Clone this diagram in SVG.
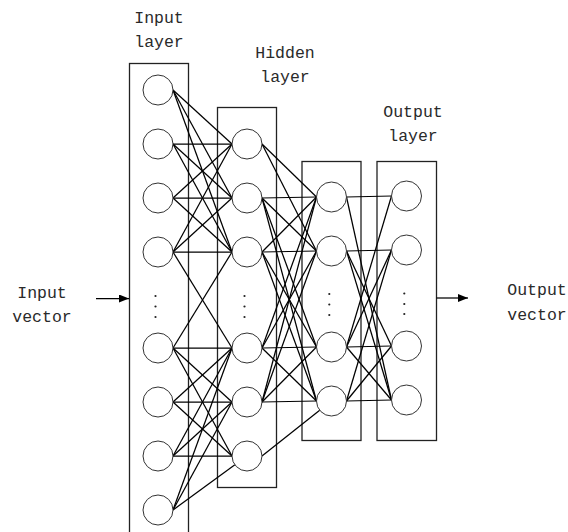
<svg xmlns="http://www.w3.org/2000/svg" width="568" height="532" viewBox="0 0 568 532">
<defs>
<style>
.box{fill:none;stroke:#222;stroke-width:1.3}
.n{fill:#fff;stroke:#333;stroke-width:1}
.c line{stroke:#000;stroke-width:1.25}
.t{font-family:"Liberation Mono","DejaVu Sans Mono",monospace;font-size:16.5px;fill:#2a2a2a;text-anchor:middle}
.d{fill:#222}
</style>
<marker id="ah" markerWidth="10" markerHeight="8" refX="10" refY="4" orient="auto" markerUnits="userSpaceOnUse">
<path d="M0,0 L10,4 L0,8 Z" fill="#000"/>
</marker>
</defs>
<rect width="568" height="532" fill="#fff"/>

<g id="labels">
<text class="t" x="159" y="23">Input</text>
<text class="t" x="159" y="47">layer</text>
<text class="t" x="285" y="58">Hidden</text>
<text class="t" x="285" y="82">layer</text>
<text class="t" x="413" y="117">Output</text>
<text class="t" x="413" y="141">layer</text>
<text class="t" x="42" y="298">Input</text>
<text class="t" x="42" y="322">vector</text>
<text class="t" x="537" y="295">Output</text>
<text class="t" x="537" y="320">vector</text>
</g>

<g id="boxes">
<rect id="input-layer" class="box" x="129.5" y="63.5" width="59" height="480"/>
<rect id="hidden-layer" class="box" x="217.5" y="107.5" width="59" height="380"/>
<rect id="hidden-layer-2" class="box" x="302" y="161.5" width="59" height="279"/>
<rect id="output-layer" class="box" x="377" y="161.5" width="59.5" height="279"/>
</g>

<g id="connectors" class="c">
<line x1="173" y1="90" x2="232" y2="144"/>
<line x1="173" y1="90" x2="232" y2="198"/>
<line x1="173" y1="90" x2="232" y2="252"/>
<line x1="173" y1="144" x2="232" y2="144"/>
<line x1="173" y1="144" x2="232" y2="198"/>
<line x1="173" y1="144" x2="232" y2="252"/>
<line x1="173" y1="198" x2="232" y2="144"/>
<line x1="173" y1="198" x2="232" y2="198"/>
<line x1="173" y1="198" x2="232" y2="252"/>
<line x1="173" y1="252" x2="232" y2="144"/>
<line x1="173" y1="252" x2="232" y2="198"/>
<line x1="173" y1="252" x2="232" y2="252"/>
<line x1="173" y1="252" x2="232" y2="348"/>
<line x1="173" y1="348" x2="232" y2="252"/>
<line x1="173" y1="348" x2="232" y2="348"/>
<line x1="173" y1="348" x2="232" y2="402"/>
<line x1="173" y1="348" x2="232" y2="456"/>
<line x1="173" y1="402" x2="232" y2="348"/>
<line x1="173" y1="402" x2="232" y2="402"/>
<line x1="173" y1="402" x2="232" y2="456"/>
<line x1="173" y1="456" x2="232" y2="348"/>
<line x1="173" y1="456" x2="232" y2="402"/>
<line x1="173" y1="456" x2="232" y2="456"/>
<line x1="173" y1="510" x2="232" y2="348"/>
<line x1="173" y1="510" x2="232" y2="402"/>
<line x1="173" y1="510" x2="234.9" y2="464.8"/>
<line x1="262" y1="144" x2="316.5" y2="197"/>
<line x1="262" y1="144" x2="316.5" y2="251"/>
<line x1="262" y1="198" x2="316.5" y2="197"/>
<line x1="262" y1="198" x2="316.5" y2="251"/>
<line x1="262" y1="198" x2="316.5" y2="347"/>
<line x1="262" y1="198" x2="316.5" y2="401"/>
<line x1="262" y1="252" x2="316.5" y2="197"/>
<line x1="262" y1="252" x2="316.5" y2="251"/>
<line x1="262" y1="252" x2="316.5" y2="347"/>
<line x1="262" y1="252" x2="316.5" y2="401"/>
<line x1="262" y1="348" x2="316.5" y2="197"/>
<line x1="262" y1="348" x2="316.5" y2="251"/>
<line x1="262" y1="348" x2="316.5" y2="347"/>
<line x1="262" y1="348" x2="316.5" y2="401"/>
<line x1="262" y1="402" x2="316.5" y2="197"/>
<line x1="262" y1="402" x2="316.5" y2="251"/>
<line x1="262" y1="402" x2="316.5" y2="347"/>
<line x1="262" y1="402" x2="316.5" y2="401"/>
<line x1="262" y1="456" x2="319.7" y2="410.3"/>
<line x1="346.5" y1="197" x2="391.5" y2="196"/>
<line x1="346.5" y1="197" x2="391.5" y2="400"/>
<line x1="346.5" y1="251" x2="391.5" y2="250"/>
<line x1="346.5" y1="251" x2="391.5" y2="346"/>
<line x1="346.5" y1="251" x2="391.5" y2="400"/>
<line x1="346.5" y1="347" x2="391.5" y2="196"/>
<line x1="346.5" y1="347" x2="391.5" y2="250"/>
<line x1="346.5" y1="347" x2="391.5" y2="346"/>
<line x1="346.5" y1="347" x2="391.5" y2="400"/>
<line x1="346.5" y1="401" x2="391.5" y2="250"/>
<line x1="346.5" y1="401" x2="391.5" y2="346"/>
<line x1="346.5" y1="401" x2="391.5" y2="400"/>
<line x1="96" y1="298.5" x2="129" y2="298.5" marker-end="url(#ah)"/>
<line x1="436.5" y1="298" x2="468" y2="298" marker-end="url(#ah)"/>
</g>

<g id="input-nodes">
<circle id="i1" class="n" cx="158" cy="90" r="15"/>
<circle id="i2" class="n" cx="158" cy="144" r="15"/>
<circle id="i3" class="n" cx="158" cy="198" r="15"/>
<circle id="i4" class="n" cx="158" cy="252" r="15"/>
<circle id="i5" class="n" cx="158" cy="348" r="15"/>
<circle id="i6" class="n" cx="158" cy="402" r="15"/>
<circle id="i7" class="n" cx="158" cy="456" r="15"/>
<circle id="i8" class="n" cx="158" cy="510" r="15"/>
<circle class="d" cx="155.5" cy="296" r="1.1"/>
<circle class="d" cx="155.5" cy="306.5" r="1.1"/>
<circle class="d" cx="155.5" cy="317" r="1.1"/>
</g>
<g id="hidden-nodes">
<circle id="h1" class="n" cx="247" cy="144" r="15"/>
<circle id="h2" class="n" cx="247" cy="198" r="15"/>
<circle id="h3" class="n" cx="247" cy="252" r="15"/>
<circle id="h4" class="n" cx="247" cy="348" r="15"/>
<circle id="h5" class="n" cx="247" cy="402" r="15"/>
<circle id="h6" class="n" cx="247" cy="456" r="15"/>
<circle class="d" cx="244.5" cy="296" r="1.1"/>
<circle class="d" cx="244.5" cy="306.5" r="1.1"/>
<circle class="d" cx="244.5" cy="317" r="1.1"/>
</g>
<g id="hidden2-nodes">
<circle id="g1" class="n" cx="331.5" cy="197" r="15"/>
<circle id="g2" class="n" cx="331.5" cy="251" r="15"/>
<circle id="g3" class="n" cx="331.5" cy="347" r="15"/>
<circle id="g4" class="n" cx="331.5" cy="401" r="15"/>
<circle class="d" cx="329.3" cy="294" r="1.1"/>
<circle class="d" cx="329.3" cy="304.5" r="1.1"/>
<circle class="d" cx="329.3" cy="315" r="1.1"/>
</g>
<g id="output-nodes">
<circle id="o1" class="n" cx="406.5" cy="196" r="15"/>
<circle id="o2" class="n" cx="406.5" cy="250" r="15"/>
<circle id="o3" class="n" cx="406.5" cy="346" r="15"/>
<circle id="o4" class="n" cx="406.5" cy="400" r="15"/>
<circle class="d" cx="404.3" cy="293.5" r="1.1"/>
<circle class="d" cx="404.3" cy="304" r="1.1"/>
<circle class="d" cx="404.3" cy="314" r="1.1"/>
</g>
</svg>
